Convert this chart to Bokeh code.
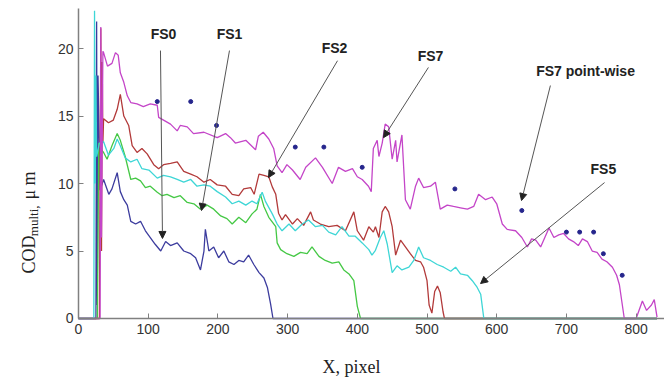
import math
from bokeh.plotting import figure
from bokeh.models import Range1d, FixedTicker, Label, Arrow, NormalHead
from bokeh.embed import file_html
from bokeh.resources import INLINE

# ---------------- data ----------------
fs0_x = [0, 25, 26, 27, 28, 31, 36, 43.5, 48, 55.5, 60, 65, 70, 75, 82, 89, 96, 103, 110, 118, 125, 132,
         141.6, 151, 161, 168, 175, 180, 182, 187, 194, 201, 208.5, 215.6, 223, 230, 237, 244, 251.5, 259,
         266, 271, 275.5, 279, 830]
fs0_y = [0, 0, 22, 1, 18, 9.5, 10.3, 9.2, 9.6, 10.8, 9.4, 8.8, 8.4, 7.2, 7.0, 7.2, 6.5, 6.0, 5.5, 5.0, 5.7, 5.4,
         5.6, 5.0, 4.8, 4.5, 3.6, 5.0, 6.6, 5.0, 5.3, 4.5, 5.0, 4.2, 4.0, 4.3, 4.2, 4.7, 4.0, 3.4,
         3.0, 2.3, 1.1, 0, 0]

fs1_x = [0, 27, 28, 29, 31, 33, 36, 41, 48, 55.5, 60, 67, 75, 82, 89, 96, 103, 113, 120, 127, 137, 146, 156,
         165.5, 175, 184.6, 194, 204, 213, 220.5, 230, 240, 249, 256, 261, 266, 273, 283, 285, 290, 299, 309,
         318.5, 328, 335, 345, 354, 364, 373.5, 380.6, 388, 395, 400, 404.6, 830]
fs1_y = [0, 0, 6, 13, 10, 12.5, 12.3, 11.8, 12.8, 13.7, 13.2, 12.0, 10.3, 10.4, 10.2, 9.7, 9.8, 9.35, 9.1, 9.2,
         8.95, 9.1, 8.6, 8.5, 8.1, 8.4, 8.1, 7.6, 7.4, 7.0, 7.5, 7.1, 7.75, 8.1, 9.2, 8.3, 7.5, 6.8, 5.6, 5.1,
         4.8, 4.6, 4.9, 4.8, 5.3, 4.6, 4.3, 4.1, 4.2, 3.6, 3.3, 2.8, 0.9, 0, 0]

fs2_x = [0, 30, 32, 33, 34, 35, 36, 43, 50, 55.5, 60, 65, 72, 77, 84, 91, 98.5, 108, 115, 122, 132, 141.6, 151,
         161, 170, 180, 189, 199, 211, 220.5, 230, 237, 247, 252, 259, 266, 273, 278, 283, 287, 292, 297, 307,
         314, 323, 333, 337, 347, 359, 371, 383, 395, 400, 409, 416.5, 423, 426, 431, 435.7, 440, 445, 450,
         455, 462, 469, 476, 483.5, 490.7, 495, 500, 503, 507, 511, 515, 519, 523, 525, 830]
fs2_y = [0, 0, 21.5, 5, 19, 13, 14.8, 14.5, 14.7, 15.5, 16.6, 15.0, 14.3, 12.8, 12.3, 12.6, 12.2, 11.4, 11.1,
         11.4, 11.5, 11.6, 10.9, 10.7, 10.5, 10.1, 10.3, 9.9, 9.8, 9.2, 9.1, 9.6, 9.7, 9.2, 10.7, 10.6, 10.5,
         9.75, 9.2, 7.8, 7.3, 7.7, 7.0, 7.4, 6.9, 7.9, 7.3, 7.0, 6.8, 6.9, 6.5, 7.9, 6.5, 5.8, 6.8, 6.4, 6.8,
         6.0, 7.9, 8.3, 7.9, 6.8, 4.7, 5.8, 5.3, 4.8, 4.3, 4.2, 3.8, 2.8, 1.0, 0.4, 2.0, 2.4, 1.9, 0.5, 0, 0]

fs5_x = [0, 22, 23, 24, 25, 26, 30, 36, 43, 50.7, 55.5, 60, 67, 75, 84, 91, 101, 113, 122, 132, 141.6, 151,
         161, 170, 180, 189, 199, 211, 220.5, 230, 240, 249, 256, 263.5, 268, 278, 285, 292, 302, 311, 321,
         330, 340, 350, 359, 369, 378, 388, 397, 407, 416.5, 421, 426, 433, 438, 443, 450, 457, 464, 474, 481,
         488, 495, 505, 514.6, 524, 534, 541, 548, 558, 565, 572, 577, 581.5, 830]
fs5_y = [0, 0, 22.8, 10, 18, 12, 13, 13.1, 12.1, 12.6, 13.3, 12.8, 11.9, 11.6, 11.8, 11.1, 11.0, 10.4, 10.6,
         10.5, 10.3, 10.1, 10.3, 9.8, 9.9, 9.8, 9.4, 9.0, 8.5, 8.7, 8.4, 8.7, 8.5, 9.35, 8.7, 7.75, 7.0, 6.5,
         7.0, 6.5, 7.0, 7.3, 6.8, 6.9, 6.4, 6.2, 6.8, 6.1, 6.1, 5.6, 5.1, 4.7, 5.05, 6.0, 6.5, 5.5, 3.4, 3.9,
         3.6, 3.8, 4.3, 5.3, 4.5, 4.3, 4.0, 3.8, 3.5, 3.8, 3.3, 3.2, 2.8, 2.3, 1.8, 0, 0]

fs7_x = [0, 31, 32, 33, 35, 36, 41.6, 48, 53, 57, 60, 65, 70, 75, 84, 93, 103, 113, 115, 122, 132, 141.6, 146,
         156, 165, 180, 199, 211, 218, 225, 240, 254, 258, 265, 273, 280, 285, 292, 299, 307, 318, 326, 340,
         350, 364, 373, 383, 393, 400, 407, 416, 420, 423, 428.5, 431, 435.7, 440, 445, 450, 455, 457, 464,
         469, 476, 483.5, 488, 495, 505, 512, 519, 529, 538, 548, 558, 567, 574, 584, 593.5, 600, 608, 615,
         627, 636, 644, 650, 656, 663, 669, 675, 682, 689, 696, 703, 710, 717, 723, 730, 737, 744, 751, 758,
         766, 772, 776, 783, 800, 809, 815, 822, 826, 830]
fs7_y = [0, 0, 21.6, 6, 19.8, 19.7, 18.7, 18.9, 19.7, 19.5, 18.2, 17.5, 16.5, 16.0, 15.9, 15.7, 15.9, 15.8,
         14.9, 14.7, 14.4, 13.9, 14.3, 14.2, 13.7, 13.8, 13.4, 13.7, 13.4, 13.0, 13.2, 12.5, 13.5, 13.8, 13.3,
         12.6, 11.3, 10.8, 11.4, 11.0, 10.3, 11.2, 11.9, 11.2, 10.0, 11.2, 10.9, 11.1, 10.5, 10.3, 9.8, 9.4,
         12.6, 13.2, 12.0, 13.0, 14.4, 14.2, 11.8, 13.2, 11.6, 13.6, 8.8, 8.1, 9.8, 10.4, 9.7, 9.8, 10.1, 8.1,
         8.4, 8.3, 8.2, 8.1, 8.3, 9.2, 8.8, 9.0, 8.5, 7.0, 6.6, 6.5, 6.0, 5.3, 5.9, 5.8, 5.3, 6.0, 6.7, 6.0,
         6.2, 6.3, 5.9, 5.7, 5.4, 5.9, 5.7, 5.0, 4.9, 4.4, 4.2, 3.8, 3.2, 2.5, 0, 0, 1.3, 0.6, 1.0, 1.4, 0.1]

pw_x = [113, 161, 198, 311, 352, 407, 540, 636, 700, 719, 739, 753, 780]
pw_y = [16.07, 16.07, 14.3, 12.7, 12.7, 11.2, 9.6, 8.0, 6.4, 6.4, 6.4, 4.8, 3.2]

x_ticks = [0, 100, 200, 300, 400, 500, 600, 700, 800]
y_ticks = [0, 5, 10, 15, 20]

# annotation labels: text, label x, label y, arrow start x/y, arrow end x/y
ann_text = ["FS0", "FS1", "FS2", "FS7", "FS7 point-wise", "FS5"]
ann_lx = [122, 216.6, 367.3, 505, 727.4, 753]
ann_ly = [21.1, 21.1, 20.07, 19.48, 18.3, 11.1]
arr_x0 = [117.6, 216.6, 371.6, 502, 677, 754.7]
arr_y0 = [19.85, 19.85, 19.1, 18.6, 17.26, 10.07]
arr_x1 = [120.5, 176.5, 272.6, 437.6, 635.6, 576.8]
arr_y1 = [5.93, 8.0, 10.44, 13.4, 8.74, 2.59]

series = [
    (fs0_x, fs0_y, "#3c3c9e"),
    (fs1_x, fs1_y, "#45c845"),
    (fs2_x, fs2_y, "#b23a3a"),
    (fs5_x, fs5_y, "#3ed6d6"),
    (fs7_x, fs7_y, "#c445c8"),
]

for sx, sy, _ in series:
    assert len(sx) == len(sy), (len(sx), len(sy))

# ---------------- figure ----------------
p = figure(width=664, height=379, output_backend="svg", toolbar_location=None,
           x_range=Range1d(-111.9, 840.7), y_range=Range1d(-4.52, 23.56))
p.min_border_left = 0
p.min_border_right = 0
p.min_border_top = 0
p.min_border_bottom = 0
p.outline_line_color = None
p.background_fill_color = "white"
p.border_fill_color = "white"
p.xgrid.visible = False
p.ygrid.visible = False

for ax in (p.xaxis[0], p.yaxis[0]):
    ax.fixed_location = 0
    ax.axis_line_color = "#808080"
    ax.axis_line_width = 1.5
    ax.major_tick_line_color = "#808080"
    ax.major_tick_in = 5
    ax.major_tick_out = 0
    ax.minor_tick_line_color = None
    ax.major_label_text_font = "Liberation Sans"
    ax.major_label_text_font_size = "14px"
    ax.major_label_text_color = "#333333"
p.xaxis[0].ticker = FixedTicker(ticks=x_ticks)
p.yaxis[0].ticker = FixedTicker(ticks=y_ticks)
p.xaxis[0].bounds = (0, 840)
p.yaxis[0].bounds = (0, 23.0)
p.xaxis[0].major_label_standoff = 6
p.yaxis[0].major_label_standoff = 5

for sx, sy, c in series:
    p.line(sx, sy, line_color=c, line_width=1.3)

p.scatter(pw_x, pw_y, size=4, color="#25258c")

for t, lx, ly, x0, y0, x1, y1 in zip(ann_text, ann_lx, ann_ly, arr_x0, arr_y0, arr_x1, arr_y1):
    p.add_layout(Arrow(end=NormalHead(size=7, fill_color="#222222", line_color="#222222"),
                       x_start=x0, y_start=y0, x_end=x1, y_end=y1,
                       line_color="#555555", line_width=1))
    p.add_layout(Label(x=lx, y=ly, text=t, text_font="Liberation Sans", text_font_style="bold",
                       text_font_size="14px", text_color="#222222",
                       text_align="center", text_baseline="middle"))

# axis titles (serif, with subscript)
p.add_layout(Label(x=350, y=-3.6, text="X, pixel", text_font="Liberation Serif",
                   text_font_size="18px", text_color="#222222",
                   text_align="left", text_baseline="alphabetic"))
p.add_layout(Label(x=-71.7, y=3.33, text="COD", angle=math.pi / 2, text_font="Liberation Serif",
                   text_font_size="18px", text_color="#222222",
                   text_align="left", text_baseline="alphabetic"))
p.add_layout(Label(x=-64.0, y=6.1, text="multi,", angle=math.pi / 2, text_font="Liberation Serif",
                   text_font_size="13px", text_color="#222222",
                   text_align="left", text_baseline="alphabetic"))
p.add_layout(Label(x=-71.7, y=8.81, text="μ m", angle=math.pi / 2, text_font="Liberation Serif",
                   text_font_size="18px", text_color="#222222",
                   text_align="left", text_baseline="alphabetic"))

open("out.html", "w").write(file_html(p, INLINE))
